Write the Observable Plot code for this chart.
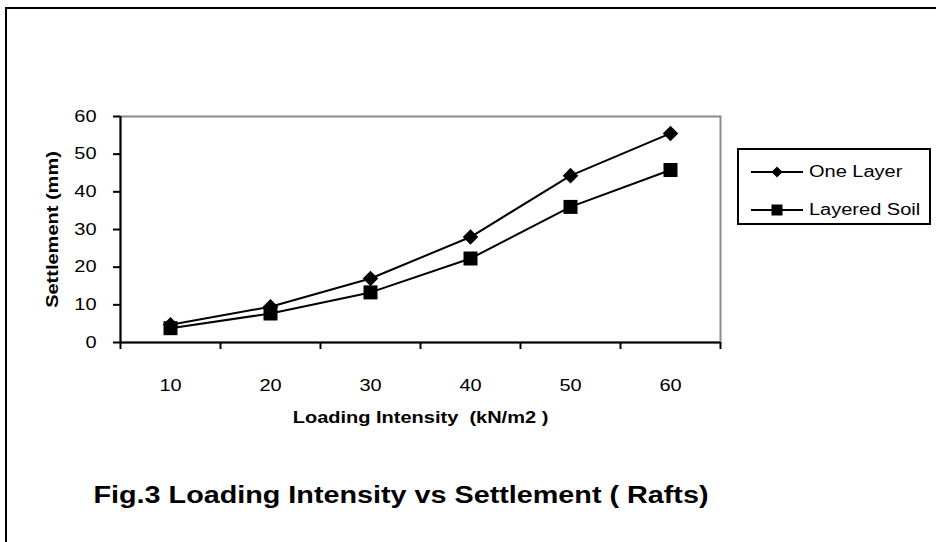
<!DOCTYPE html>
<html>
<head>
<meta charset="utf-8">
<script src="https://cdn.jsdelivr.net/npm/d3@7"></script>
<script src="https://cdn.jsdelivr.net/npm/@observablehq/plot@0.6"></script>
<style>
  html, body { margin: 0; padding: 0; background: #fff; overflow: hidden; }
  #wrap { position: relative; width: 936px; height: 542px; overflow: hidden; font-family: "Liberation Sans", Arial, sans-serif; }
  #border { position: absolute; left: 5px; top: 7px; width: 1000px; height: 700px; border-left: 2px solid #000; border-top: 2px solid #000; }
  #chart { position: absolute; left: 0; top: 0; }
  #legend { position: absolute; left: 737px; top: 148px; width: 194px; height: 77px; border: 2px solid #000; box-sizing: border-box; background: #fff; }
  .row { position: absolute; left: 0; height: 20px; display: flex; align-items: center; }
  .row span { display: inline-block; font-size: 16px; transform: scaleX(1.25); transform-origin: left center; margin-left: 6px; white-space: nowrap; }
  #caption { position: absolute; left: 0; width: 802px; top: 482px; text-align: center; font-weight: bold; font-size: 23px; }
  #caption span { display: inline-block; transform: scaleX(1.25); transform-origin: center center; white-space: nowrap; }
</style>
</head>
<body>
<div id="wrap">
  <div id="border"></div>
  <div id="chart"></div>
  <div id="legend"></div>
  <div id="caption"></div>
</div>
<script>
// ---- data ----
const loading = [10, 20, 30, 40, 50, 60];
const oneLayer = [4.7, 9.5, 17.0, 28.0, 44.3, 55.5];
const layeredSoil = [3.8, 7.7, 13.3, 22.3, 36.0, 45.8];
const seriesNames = ["One Layer", "Layered Soil"];
const seriesSymbols = ["diamond2", "square"];
const yTicks = [0, 10, 20, 30, 40, 50, 60];
const xBoundaries = [5, 15, 25, 35, 45, 55, 65];
const xTitle = "Loading Intensity  (kN/m2 )";
const yTitle = "Settlement (mm)";
const captionText = "Fig.3 Loading Intensity vs Settlement ( Rafts)";

const rows = loading.flatMap((x, i) => [
  {x, y: oneLayer[i], s: seriesNames[0]},
  {x, y: layeredSoil[i], s: seriesNames[1]}
]);

const plot = Plot.plot({
  width: 936,
  height: 542,
  marginLeft: 120,
  marginRight: 216,
  marginTop: 116,
  marginBottom: 200,
  x: {domain: [5, 65]},
  y: {domain: [0, 60]},
  style: {fontFamily: "'Liberation Sans', Arial, sans-serif", fontSize: "16px", color: "#000", background: "transparent", overflow: "visible"},
  marks: [
    Plot.frame({stroke: "#8a8a8a", strokeWidth: 2}),
    Plot.axisX({ticks: xBoundaries, tickFormat: () => "", tickSize: 7, strokeWidth: 2, label: null}),
    Plot.axisX({ticks: loading, tickSize: 0, tickPadding: 37, fontSize: 16, label: xTitle, labelArrow: "none", labelAnchor: "center", labelOffset: 80}),
    Plot.axisY({ticks: yTicks, tickSize: 7, strokeWidth: 2, tickPadding: 17, fontSize: 16, label: yTitle, labelArrow: "none", labelAnchor: "center", labelOffset: 74}),
    Plot.ruleY([0], {stroke: "#000", strokeWidth: 2}),
    Plot.ruleX([5], {stroke: "#000", strokeWidth: 2}),
    Plot.line(rows, {x: "x", y: "y", z: "s", stroke: "#000", strokeWidth: 2}),
    Plot.dot(rows.filter(d => d.s === seriesNames[0]), {x: "x", y: "y", symbol: seriesSymbols[0], r: 7, fill: "#000"}),
    Plot.dot(rows.filter(d => d.s === seriesNames[1]), {x: "x", y: "y", symbol: seriesSymbols[1], r: 7.9, fill: "#000"})
  ]
});
document.getElementById("chart").appendChild(plot);

// bold axis titles and widen glyphs like the original rendering
plot.querySelectorAll("text").forEach(t => {
  const s = t.textContent.trim();
  if (s.startsWith("Loading") || s.startsWith("Settlement")) t.setAttribute("font-weight", "bold");
});
plot.querySelectorAll("text").forEach(t => {
  const w = t.getComputedTextLength();
  if (w > 0) {
    t.setAttribute("textLength", (w * 1.25).toFixed(1));
    t.setAttribute("lengthAdjust", "spacingAndGlyphs");
  }
});

// legend
const legend = document.getElementById("legend");
const rowTops = [12, 50];
seriesNames.forEach((name, i) => {
  const row = document.createElement("div");
  row.className = "row";
  row.style.top = rowTops[i] + "px";
  row.style.left = "12px";
  const svg = d3.create("svg").attr("width", 52).attr("height", 20);
  svg.append("line").attr("x1", 0).attr("x2", 52).attr("y1", 10).attr("y2", 10).attr("stroke", "#000").attr("stroke-width", 2);
  const sym = i === 0 ? d3.symbol(d3.symbolDiamond2, Math.PI * 5 * 5) : d3.symbol(d3.symbolSquare, 11 * 11);
  svg.append("path").attr("d", sym()).attr("transform", "translate(26,10)").attr("fill", "#000");
  row.appendChild(svg.node());
  const label = document.createElement("span");
  label.textContent = name;
  row.appendChild(label);
  legend.appendChild(row);
});

// caption
const cap = document.createElement("span");
cap.textContent = captionText;
document.getElementById("caption").appendChild(cap);
</script>
</body>
</html>
